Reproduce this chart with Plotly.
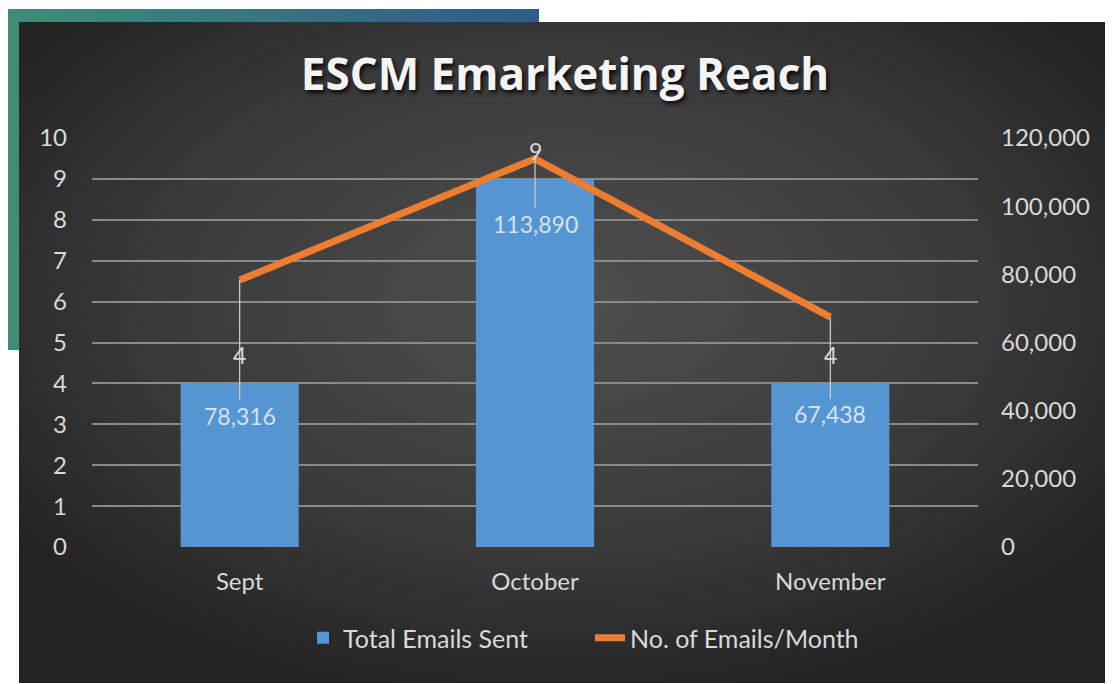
import base64
import plotly.graph_objects as go

# ---- data ----
months = ["Sept", "October", "November"]
total_emails_sent = [4, 9, 4]              # left axis (bars)
emails_per_month = [78316, 113890, 67438]  # right axis (line)
left_ticks = list(range(0, 11))
right_ticks = [0, 20000, 40000, 60000, 80000, 100000, 120000]

# label offsets (pixels, styling only)
line_label_offsets = [136, 65, 97]

# page body has an 8px margin -> figure is drawn 8px smaller and offset
W, H = 1105, 676
ML, MR, MT, MB = 84, 135, 130, 137
PW, PH = W - ML - MR, H - MT - MB

svg = f"""<svg xmlns='http://www.w3.org/2000/svg' width='{W}' height='{H}' viewBox='0 0 {W} {H}' preserveAspectRatio='none'>
<defs>
<linearGradient id='g' x1='0' x2='1' y1='0' y2='0'>
<stop offset='0' stop-color='#3e8d77'/><stop offset='1' stop-color='#305a8b'/></linearGradient>
<radialGradient id='r' cx='0.5' cy='0.42' r='0.62'>
<stop offset='0' stop-color='#4f4f4f'/><stop offset='0.6' stop-color='#3a3a3a'/><stop offset='1' stop-color='#232323'/></radialGradient>
</defs>
<rect x='0' y='0' width='{W}' height='{H}' fill='#ffffff'/>
<rect x='0' y='1' width='531' height='341' fill='url(#g)'/>
<rect x='1099' y='349' width='6' height='327' fill='#2f5b8a'/>
<rect x='11' y='14' width='1088' height='661' fill='url(#r)'/>
</svg>"""
bg_uri = "data:image/svg+xml;base64," + base64.b64encode(svg.encode()).decode()

FONT = "Lato"
TXT = "#d9d9d9"

fig = go.Figure()
fig.add_trace(go.Bar(
    x=months, y=total_emails_sent, name="Total Emails Sent",
    marker=dict(color="#5596d2", line=dict(width=0)),
    width=0.4, yaxis="y",
))
fig.add_trace(go.Scatter(
    x=months, y=emails_per_month, name="No. of Emails/Month",
    mode="lines", line=dict(color="#ed7d31", width=7), yaxis="y2",
))

annotations = []
for m, v in zip(months, total_emails_sent):
    annotations.append(dict(
        x=m, y=v, xref="x", yref="y", text=str(v), showarrow=False,
        yshift=28, font=dict(family=FONT, size=23, color=TXT),
    ))
for m, v, off in zip(months, emails_per_month, line_label_offsets):
    annotations.append(dict(
        x=m, y=v, xref="x", yref="y2", text=f"{v:,}", showarrow=True,
        arrowhead=0, arrowwidth=1.2, arrowcolor="#d0d0d0", ax=0, ay=off,
        font=dict(family=FONT, size=23, color="#d6e1ee"),
    ))

fig.update_layout(
    width=W, height=H,
    margin=dict(l=ML, r=MR, t=MT, b=MB, pad=0),
    paper_bgcolor="white", plot_bgcolor="rgba(0,0,0,0)",
    images=[dict(
        source=bg_uri, xref="paper", yref="paper",
        x=-ML / PW, y=1 + MT / PH, sizex=W / PW, sizey=H / PH,
        xanchor="left", yanchor="top", sizing="stretch", layer="below",
    )],
    title=dict(
        text="<b>ESCM Emarketing Reach</b>", x=557 / W, xref="container",
        xanchor="center", y=1 - 67 / H, yref="container", yanchor="middle",
        font=dict(family="Open Sans", size=44, color="#f4f4f4",
                  shadow="2px 3px 4px rgba(0,0,0,0.85)"),
    ),
    xaxis=dict(
        showgrid=False, showline=False, zeroline=False, ticks="",
        tickfont=dict(family=FONT, size=24, color=TXT), ticklabelstandoff=18,
    ),
    yaxis=dict(
        range=[0, 10], tickvals=left_ticks, showgrid=True,
        gridcolor="#8a8a8a", gridwidth=2, zeroline=False, showline=False,
        tickfont=dict(family=FONT, size=24, color=TXT), ticklabelstandoff=24,
    ),
    yaxis2=dict(
        range=[0, 120000], tickvals=right_ticks, overlaying="y", side="right",
        showgrid=False, zeroline=False, showline=False, tickformat=",",
        tickfont=dict(family=FONT, size=24, color=TXT), ticklabelstandoff=22,
    ),
    legend=dict(
        orientation="h", x=(295 - ML) / PW, xanchor="left",
        y=1 - (630 - MT) / PH, yanchor="middle",
        font=dict(family=FONT, size=25, color=TXT), bgcolor="rgba(0,0,0,0)",
        entrywidth=242, entrywidthmode="pixels",
    ),
    annotations=annotations,
    showlegend=True,
)

fig.write_html("out.html")
